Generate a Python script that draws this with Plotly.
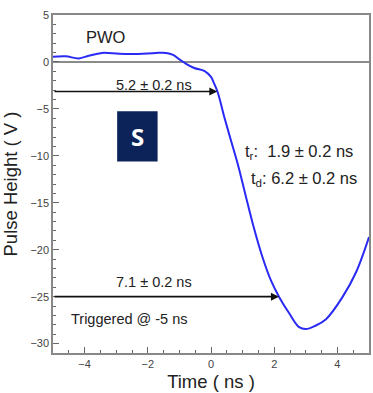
import plotly.graph_objects as go

# Pulse waveform (time in ns, height in V)
t_ns = [-5.0, -4.6, -4.18, -3.87, -3.45, -2.9, -2.3, -1.75, -1.42, -1.2, -1.0, -0.8,
        -0.53, -0.2, 0.0, 0.1, 0.21, 0.42, 0.63, 0.84, 1.08, 1.32, 1.63, 1.9, 2.16,
        2.48, 2.79, 3.0, 3.3, 3.64, 4.16, 4.59, 5.0]
v_pulse = [0.55, 0.6, 0.38, 0.66, 0.96, 0.86, 0.85, 0.96, 0.96, 0.75, 0.28, -0.17,
           -0.65, -0.98, -1.6, -2.3, -3.2, -5.86, -8.35, -10.8, -14.0, -17.2, -20.8, -23.3, -25.05,
           -26.8, -28.25, -28.45, -28.1, -27.4, -25.05, -22.4, -18.65]

# Timing arrows (start, end, level) and their labels
arrow_start = [-5.0, -5.0]
arrow_end = [0.2, 2.15]
arrow_level = [-3.15, -25.0]
arrow_labels = ["5.2 \u00b1 0.2 ns", "7.1 \u00b1 0.2 ns"]
label_pos = [(-1.79, -2.45), (-1.8, -23.4)]

x_range = [-5, 5]
y_range = [-31, 5]

FONT = "Liberation Sans, Arial, sans-serif"
TXT = "#222222"

fig = go.Figure()

# zero reference line
fig.add_shape(type="line", x0=x_range[0], x1=x_range[1], y0=0, y1=0,
              line=dict(color="#8a8a8a", width=2), layer="below")

fig.add_trace(go.Scatter(x=t_ns, y=v_pulse, mode="lines",
                         line=dict(color="#2a2af5", width=2, shape="spline", smoothing=1.0),
                         showlegend=False, hoverinfo="skip"))

# arrows
for xs, xe, yl, lab, (lx, ly) in zip(arrow_start, arrow_end, arrow_level, arrow_labels, label_pos):
    fig.add_annotation(x=xe, y=yl, ax=xs, ay=yl, xref="x", yref="y", axref="x", ayref="y",
                       text="", showarrow=True, arrowhead=2, arrowsize=1, arrowwidth=1.6,
                       arrowcolor="#111111")
    fig.add_annotation(x=lx, y=ly, text=lab, showarrow=False,
                       font=dict(family=FONT, size=14.5, color=TXT))

fig.add_annotation(x=-3.32, y=2.67, text="PWO", showarrow=False,
                   font=dict(family=FONT, size=16.5, color=TXT))
fig.add_annotation(x=1.0, y=-9.6, text="t<sub>r</sub>:  1.9 \u00b1 0.2 ns", showarrow=False,
                   xanchor="left", font=dict(family=FONT, size=16.5, color=TXT))
fig.add_annotation(x=1.21, y=-12.45, text="t<sub>d</sub>: 6.2 \u00b1 0.2 ns", showarrow=False,
                   xanchor="left", font=dict(family=FONT, size=16.5, color=TXT))
fig.add_annotation(x=-4.48, y=-27.43, text="Triggered @ -5 ns", showarrow=False,
                   xanchor="left", font=dict(family=FONT, size=14.5, color=TXT))

# logo box
fig.add_shape(type="rect", x0=-2.97, x1=-1.69, y0=-10.6, y1=-5.26,
              fillcolor="#0b2358", line=dict(color="#0b2358", width=0))
fig.add_annotation(x=-2.33, y=-7.93, text="<b>S</b>", showarrow=False,
                   font=dict(family="Open Sans, sans-serif", size=24, color="white"))

fig.update_xaxes(range=x_range, dtick=2, tick0=0, ticks="inside", ticklen=6,
                 tickcolor="#666", showline=True, linecolor="#888", linewidth=1.5,
                 mirror=True, showgrid=False, zeroline=False,
                 minor=dict(dtick=0.5, ticks="inside", ticklen=3, tickcolor="#666"),
                 tickfont=dict(family=FONT, size=11, color="#444"),
                 title=dict(text="Time ( ns )", font=dict(family=FONT, size=18.5, color=TXT),
                            standoff=6))
fig.update_yaxes(range=y_range, dtick=5, tick0=0, ticks="inside", ticklen=6,
                 tickcolor="#666", showline=True, linecolor="#888", linewidth=1.5,
                 mirror=True, showgrid=False, zeroline=False,
                 minor=dict(dtick=1, ticks="inside", ticklen=3, tickcolor="#666"),
                 tickfont=dict(family=FONT, size=11, color="#444"),
                 title=dict(text="Pulse Height ( V )", font=dict(family=FONT, size=18.5, color=TXT),
                            standoff=8))

fig.update_layout(width=373, height=393, margin=dict(l=53, r=2, t=15, b=40),
                  plot_bgcolor="white", paper_bgcolor="white", showlegend=False)

fig.write_html("out.html")
